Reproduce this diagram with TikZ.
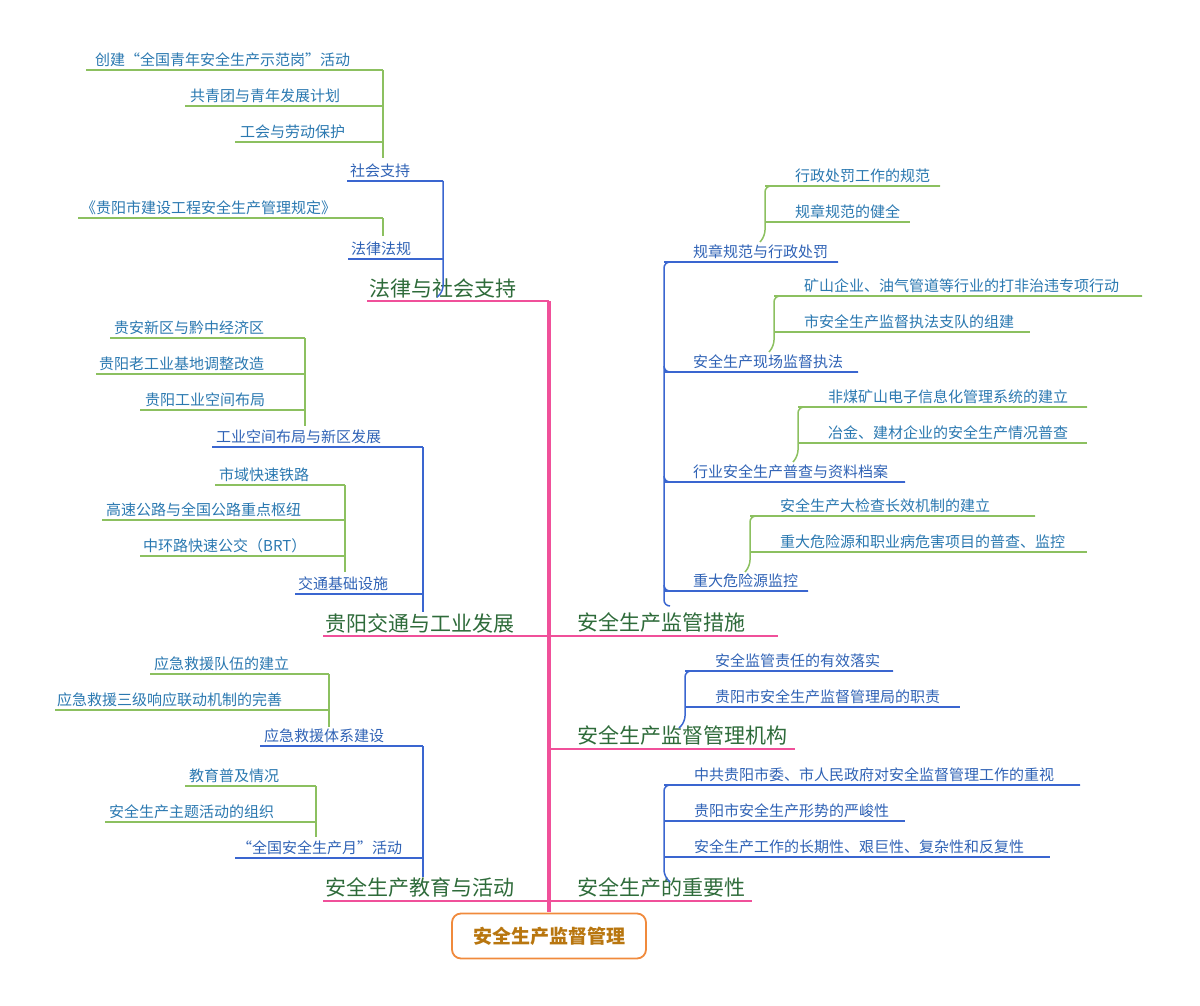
\documentclass[tikz,border=0pt]{standalone}
\usepackage{fontspec}
\setmainfont{Noto Sans CJK SC}
\definecolor{pk}{HTML}{F0509A}
\definecolor{bl}{HTML}{3A66D0}
\definecolor{gr}{HTML}{8CC060}
\definecolor{tmain}{HTML}{2E6B3A}
\definecolor{tsub}{HTML}{2F62B5}
\definecolor{tleaf}{HTML}{2A78B0}
\definecolor{org}{HTML}{F08A3C}
\definecolor{orgt}{HTML}{B8760F}
\tikzset{
 lbl/.style={inner sep=1pt,anchor=south west},
 mainl/.style={lbl,font=\fontsize{21}{23}\selectfont,text=tmain},
 subl/.style={lbl,font=\fontsize{15}{17}\selectfont,text=tsub},
 leafl/.style={lbl,font=\fontsize{15}{17}\selectfont,text=tleaf},
 pkl/.style={draw=pk,line width=4pt,rounded corners=6pt},
 pkt/.style={draw=pk,line width=2.5pt},
 bll/.style={draw=bl,line width=1.5pt,rounded corners=6pt},
 grl/.style={draw=gr,line width=1.5pt,rounded corners=6pt}
}
\newcommand\myline[8]{%
 \node[#5] (#1) at (#2+#8,#4-2) {#7};
 \coordinate (#1a) at (#2,#4); \coordinate (#1b) at (#3,#4);
 \path[#6] (#1a) -- (#1b);}
\begin{document}
\begin{tikzpicture}[x=1pt,y=-1pt]
\useasboundingbox (0,0) rectangle (1200,1006);
\path[pkl] (549,301) -- (549,912);
\node[draw=org,line width=1.8pt,rounded corners=9pt,minimum width=194pt,minimum height=45pt,
 font=\fontsize{19}{21}\selectfont\bfseries,text=orgt] (root) at (549,936) {安全生产监督管理};
% main branches
\myline{m1}{367}{549}{301}{mainl}{pkt}{法律与社会支持}{1}
\myline{m2}{323}{549}{636}{mainl}{pkt}{贵阳交通与工业发展}{1}
\myline{m3}{323}{549}{901}{mainl}{pkt}{安全生产教育与活动}{1}
\myline{m4}{549}{778}{636}{mainl}{pkt}{安全生产监管措施}{27}
\myline{m5}{549}{795}{749}{mainl}{pkt}{安全生产监督管理机构}{27}
\myline{m6}{549}{752}{901}{mainl}{pkt}{安全生产的重要性}{27}
% left 1
\myline{s1}{347}{443}{181}{subl}{bll}{社会支持}{2}
\myline{s2}{348}{443}{259}{subl}{bll}{法律法规}{2}
\path[bll] (s1b) -- (443,292) -- (437,297);
\myline{l1}{86}{383}{70}{leafl}{grl}{创建“全国青年安全生产示范岗”活动}{8}
\myline{l2}{185}{383}{106}{leafl}{grl}{共青团与青年发展计划}{4}
\myline{l3}{235}{383}{142}{leafl}{grl}{工会与劳动保护}{4}
\path[grl] (l1b) -- (383,158);
\myline{l4}{78}{383}{218}{leafl}{grl}{《贵阳市建设工程安全生产管理规定》}{2}
\path[grl] (l4b) -- (383,236);
% left 2
\myline{s3}{212}{423}{447}{subl}{bll}{工业空间布局与新区发展}{3}
\myline{s4}{295}{423}{594}{subl}{bll}{交通基础设施}{2}
\path[bll] (s3b) -- (423,612);
\myline{l5}{110}{305}{338}{leafl}{grl}{贵安新区与黔中经济区}{3}
\myline{l6}{96}{305}{374}{leafl}{grl}{贵阳老工业基地调整改造}{2}
\myline{l7}{140}{305}{410}{leafl}{grl}{贵阳工业空间布局}{4}
\path[grl] (l5b) -- (305,426);
\myline{l8}{215}{345}{485}{leafl}{grl}{市域快速铁路}{3}
\myline{l9}{102}{345}{520}{leafl}{grl}{高速公路与全国公路重点枢纽}{3}
\myline{l10}{140}{345}{556}{leafl}{grl}{中环路快速公交（BRT）}{2}
\path[grl] (l8b) -- (345,572);
% left 3
\myline{s5}{260}{423}{746}{subl}{bll}{应急救援体系建设}{3}
\myline{s6}{235}{423}{858}{subl}{bll}{“全国安全生产月”活动}{1}
\path[bll] (s5b) -- (423,877);
\myline{l11}{150}{329}{674}{leafl}{grl}{应急救援队伍的建立}{3}
\myline{l12}{55}{329}{710}{leafl}{grl}{应急救援三级响应联动机制的完善}{1}
\path[grl] (l11b) -- (329,727);
\myline{l13}{185}{316}{786}{leafl}{grl}{教育普及情况}{3}
\myline{l14}{105}{316}{822}{leafl}{grl}{安全生产主题活动的组织}{3}
\path[grl] (l13b) -- (316,837);
% right 1
\myline{s7}{664}{838}{262}{subl}{bll}{规章规范与行政处罚}{28}
\myline{s8}{664}{858}{372}{subl}{bll}{安全生产现场监督执法}{28}
\myline{s9}{664}{905}{482}{subl}{bll}{行业安全生产普查与资料档案}{28}
\myline{s10}{664}{808}{591}{subl}{bll}{重大危险源监控}{28}
\path[bll] (s7b) -- (s7a) -- (664,606) -- (670,606);
\foreach \n in {s8,s9,s10}{\path[bll] (\n b) -- (\n a) -- ++(0,-6);}
\myline{l15}{765}{940}{186}{leafl}{grl}{行政处罚工作的规范}{29}
\myline{l16}{765}{910}{222}{leafl}{grl}{规章规范的健全}{29}
\path[grl] (l15b) -- (l15a) -- (765,236) -- (760,242);
\myline{l17}{774}{1142}{296}{leafl}{grl}{矿山企业、油气管道等行业的打非治违专项行动}{29}
\myline{l18}{774}{1030}{332}{leafl}{grl}{市安全生产监督执法支队的组建}{29}
\path[grl] (l17b) -- (l17a) -- (774,346) -- (769,352);
\myline{l19}{798}{1087}{407}{leafl}{grl}{非煤矿山电子信息化管理系统的建立}{29}
\myline{l20}{798}{1087}{443}{leafl}{grl}{冶金、建材企业的安全生产情况普查}{29}
\path[grl] (l19b) -- (l19a) -- (798,456) -- (793,462);
\myline{l21}{750}{1035}{516}{leafl}{grl}{安全生产大检查长效机制的建立}{29}
\myline{l22}{750}{1087}{552}{leafl}{grl}{重大危险源和职业病危害项目的普查、监控}{29}
\path[grl] (l21b) -- (l21a) -- (750,566) -- (745,572);
% right 2
\myline{s11}{685}{893}{671}{subl}{bll}{安全监管责任的有效落实}{29}
\myline{s12}{685}{960}{707}{subl}{bll}{贵阳市安全生产监督管理局的职责}{29}
\path[bll] (s11b) -- (s11a) -- (685,722) -- (679,728);
% right 3
\myline{s13}{664}{1080}{785}{subl}{bll}{中共贵阳市委、市人民政府对安全监督管理工作的重视}{29}
\myline{s14}{664}{905}{821}{subl}{bll}{贵阳市安全生产形势的严峻性}{29}
\myline{s15}{664}{1050}{857}{subl}{bll}{安全生产工作的长期性、艰巨性、复杂性和反复性}{29}
\path[bll] (s13b) -- (s13a) -- (664,876) -- (670,882);
\end{tikzpicture}
\end{document}
